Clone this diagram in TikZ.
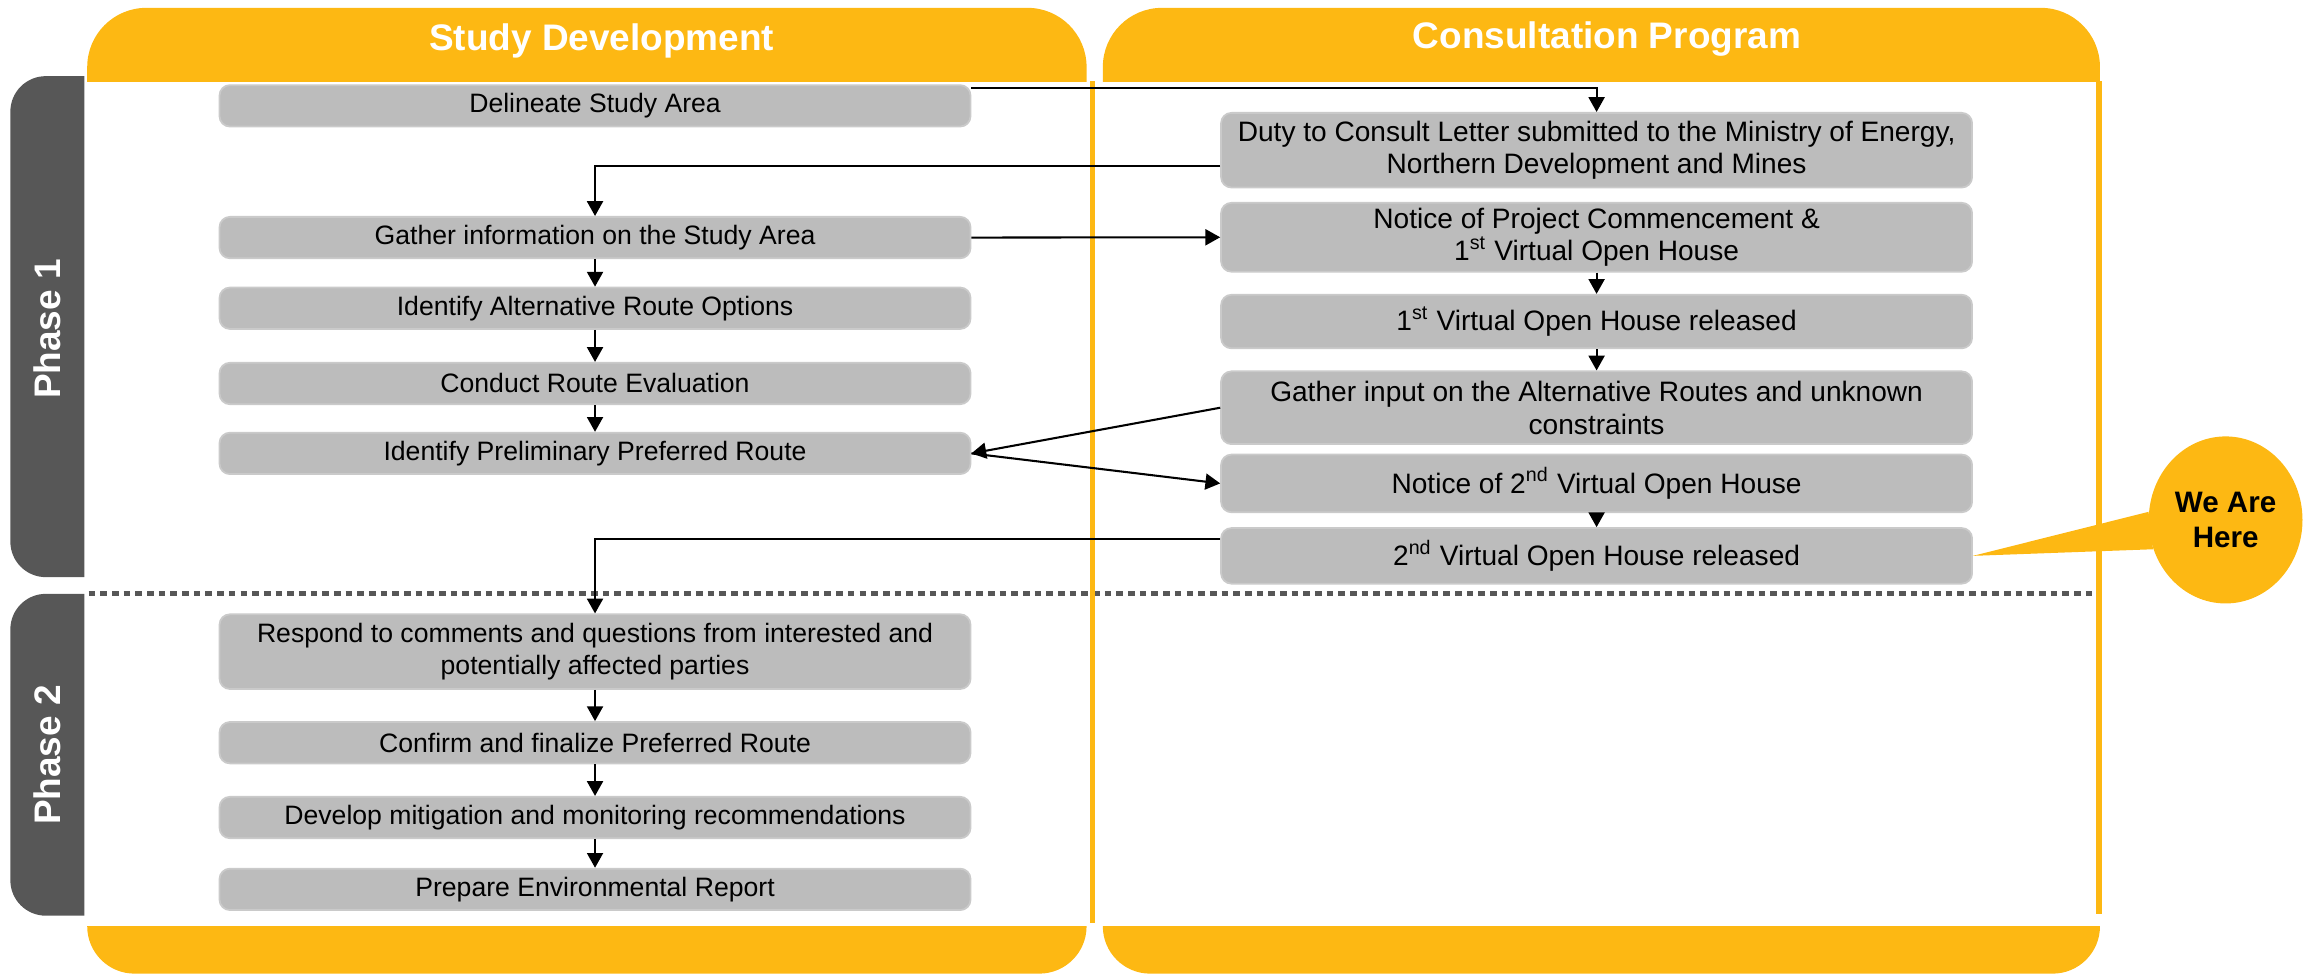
\documentclass[tikz,border=0pt]{standalone}
\usepackage{fontspec}
\setmainfont{Liberation Sans}
\usetikzlibrary{arrows.meta,shapes.geometric}
\definecolor{hdrorange}{RGB}{253,184,19}
\definecolor{tabgray}{RGB}{87,87,87}
\definecolor{boxgray}{RGB}{188,188,188}
\definecolor{boxrim}{RGB}{202,202,202}

\begin{document}
\begin{tikzpicture}[x=0.5pt,y=0.5pt,yscale=-1,xscale=1,
  stepbox/.style={draw=boxrim,line width=0.6pt,fill=boxgray,rounded corners=3.5pt,minimum width=254pt,inner sep=1pt,align=center,font=\fontsize{9}{11}\selectfont},
  stepboxr/.style={stepbox,font=\fontsize{9.5}{11}\selectfont},
  hdrtext/.style={text=white,font=\fontsize{12.5}{15}\selectfont\bfseries},
  flow/.style={line width=0.7pt,-{Triangle[length=5pt,width=5.4pt]}}]
\useasboundingbox (0,0) rectangle (1568,659);
% column heads and feet
\fill[hdrorange,rounded corners=20pt] (59,55.3) -- (59,5.3) -- (735,5.3) -- (735,55.3);
\fill[hdrorange,rounded corners=20pt] (746,55.3) -- (746,5.3) -- (1420.5,5.3) -- (1420.5,55.3);
\fill[hdrorange,rounded corners=16pt] (59,626.5) -- (59,658.6) -- (735,658.6) -- (735,626.5);
\fill[hdrorange,rounded corners=16pt] (746,626.5) -- (746,658.6) -- (1420.5,658.6) -- (1420.5,626.5);
\node (studyhdr) at (407,28) [hdrtext] {Study Development};
\node (consulthdr) at (1087,26.5) [hdrtext] {Consultation Program};
% phase tabs
\fill[tabgray,rounded corners=12pt] (57,51.5) -- (7,51.5) -- (7,390.4) -- (57,390.4);
\fill[tabgray,rounded corners=12pt] (57,401.7) -- (7,401.7) -- (7,619.4) -- (57,619.4);
\node (phaseone) at (32,222.5) [hdrtext,rotate=90] {Phase 1};
\node (phasetwo) at (32,510.8) [hdrtext,rotate=90] {Phase 2};
\draw[tabgray,line width=1.9pt,dash pattern=on 2.25pt off 1.7pt] (60,401.5) -- (1415,401.5);
\draw[hdrorange,line width=1.9pt] (738.9,55) -- (738.9,624.3);
\draw[hdrorange,line width=1.9pt] (1419.8,55) -- (1419.8,618);
% study development
\node (delin) at (402.5,71.6) [stepbox,minimum height=14pt] {Delineate Study Area};
\node (gather) at (402.5,160.7) [stepbox,minimum height=14pt] {Gather information on the Study Area};
\node (altroute) at (402.5,208.5) [stepbox,minimum height=14pt] {Identify Alternative Route Options};
\node (evaluate) at (402.5,259.4) [stepbox,minimum height=14pt] {Conduct Route Evaluation};
\node (prelim) at (402.5,306.7) [stepbox,minimum height=14pt] {Identify Preliminary Preferred Route};
\node (respond) at (402.5,440.8) [stepbox,minimum height=25.25pt] {Respond to comments and questions from interested and\\potentially affected parties};
\node (confirm) at (402.5,502.4) [stepbox,minimum height=14pt] {Confirm and finalize Preferred Route};
\node (mitig) at (402.5,553) [stepbox,minimum height=14pt] {Develop mitigation and monitoring recommendations};
\node (report) at (402.5,601.6) [stepbox,minimum height=14pt] {Prepare Environmental Report};
% consultation program
\node (duty) at (1080,101.6) [stepboxr,minimum height=25.25pt] {Duty to Consult Letter submitted to the Ministry of Energy,\\Northern Development and Mines};
\node (notice) at (1080,160.5) [stepboxr,minimum height=23.3pt] {Notice of Project Commencement \&\\1\textsuperscript{st} Virtual Open House};
\node (vohone) at (1080,217.5) [stepboxr,minimum height=18.1pt] {1\textsuperscript{st} Virtual Open House released};
\node (input) at (1080,275.8) [stepboxr,minimum height=24.6pt] {Gather input on the Alternative Routes and unknown\\constraints};
\node (noticetwo) at (1080,327) [stepboxr,minimum height=19.5pt] {Notice of 2\textsuperscript{nd} Virtual Open House};
\node (vohtwo) at (1080,376) [stepboxr,minimum height=18.8pt] {2\textsuperscript{nd} Virtual Open House released};
% connectors
\draw[flow] ([yshift=1.4pt]delin.north east) -| (duty.north);
\draw[flow] ([yshift=5.4pt]duty.west) -| (gather.north);
\draw[flow] (gather.east) -- (notice.west);
\draw[flow] (gather.south) -- (altroute.north);
\draw[flow] (altroute.south) -- (evaluate.north);
\draw[flow] (evaluate.south) -- (prelim.north);
\draw[flow] (notice.south) -- (vohone.north);
\draw[flow] (vohone.south) -- (input.north);
\draw[flow] (input.west) -- (prelim.east);
\draw[flow] (prelim.east) -- (noticetwo.west);
\draw[flow] (noticetwo.south) -- (vohtwo.north);
\draw[flow] ([yshift=-5.75pt]vohtwo.west) -| (respond.north);
\draw[flow] (respond.south) -- (confirm.north);
\draw[flow] (confirm.south) -- (mitig.north);
\draw[flow] (mitig.south) -- (report.north);
% callout
\node (here) at (1505.5,351.7) [ellipse,fill=hdrorange,minimum width=52pt,minimum height=56.5pt,inner sep=0pt,align=center,font=\fontsize{10}{12}\selectfont\bfseries] {We Are\\Here};
\fill[hdrorange] (vohtwo.east) -- (here.174) -- (here.202) -- cycle;
\end{tikzpicture}
\end{document}
